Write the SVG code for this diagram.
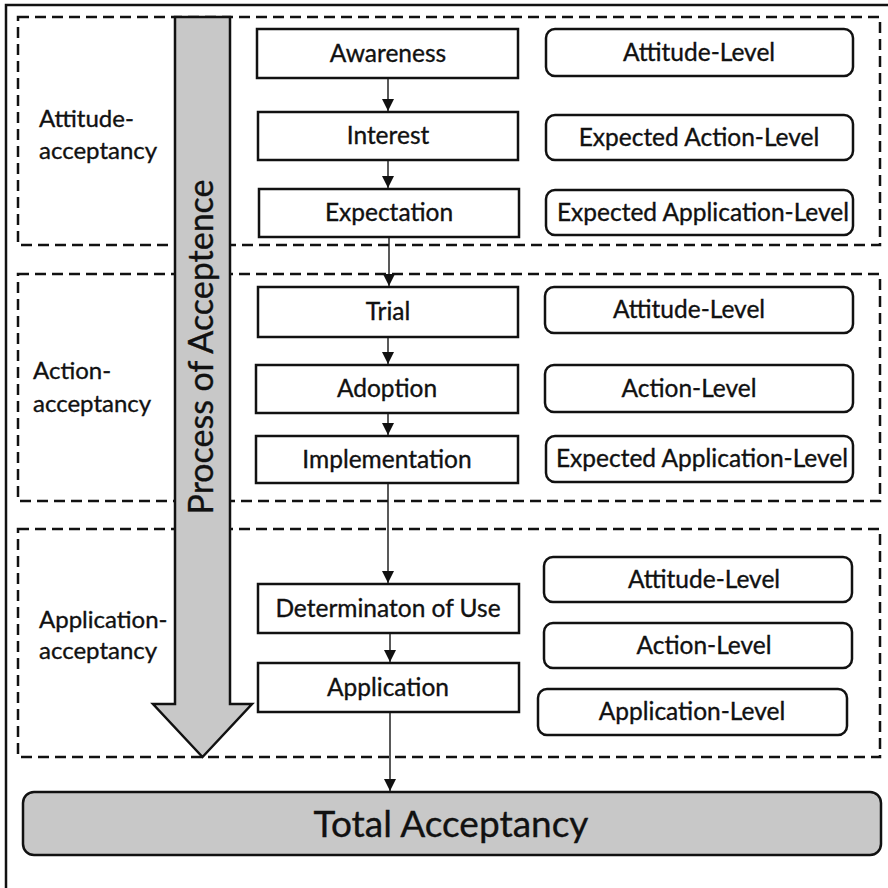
<svg xmlns="http://www.w3.org/2000/svg" width="888" height="888" viewBox="0 0 888 888">
  <style>
    text { font-family: Lato, "Liberation Sans", sans-serif; fill: #111; stroke: #111; stroke-width: 0.35; }
    .step rect { fill: #fff; stroke: #111; stroke-width: 2.5; }
    .level rect { fill: #fff; stroke: #111; stroke-width: 2.5; }
    .step text, .level text { font-size: 24.5px; text-anchor: middle; }
    .phase rect { fill: none; stroke: #111; stroke-width: 2.5; stroke-dasharray: 11 6; }
    .phase text { font-size: 24px; }
    .conn { stroke: #222; stroke-width: 1.5; fill: none; marker-end: url(#head); }
  </style>
  <defs>
    <marker id="head" viewBox="0 0 12 12" refX="12" refY="6" markerWidth="12" markerHeight="12" markerUnits="userSpaceOnUse" orient="auto">
      <path d="M0,0 L12,6 L0,12 Z" fill="#111"/>
    </marker>
  </defs>

  <rect width="888" height="888" fill="#fff"/>
  <!-- outer frame -->
  <rect x="6" y="5" width="900" height="900" fill="none" stroke="#111" stroke-width="2.5"/>

  <!-- phases -->
  <g id="phase-attitude" class="phase">
    <rect x="18" y="17" width="862" height="228"/>
    <text x="39" y="127">Attitude-</text>
    <text x="39" y="159">acceptancy</text>
  </g>
  <g id="phase-action" class="phase">
    <rect x="18" y="274" width="862" height="227"/>
    <text x="33" y="379">Action-</text>
    <text x="33" y="412">acceptancy</text>
  </g>
  <g id="phase-application" class="phase">
    <rect x="18" y="529" width="862" height="228"/>
    <text x="39" y="628">Application-</text>
    <text x="39" y="659">acceptancy</text>
  </g>

  <!-- process arrow -->
  <g id="process">
    <path d="M175,17 L230,17 L230,704 L252,704 L202.5,757 L153,704 L175,704 Z" fill="#c8c8c8" stroke="#111" stroke-width="2.5" stroke-linejoin="miter"/>
    <text transform="translate(213,347) rotate(-90)" x="0" y="0" font-size="34" text-anchor="middle">Process of Acceptence</text>
  </g>

  <!-- process steps -->
  <g id="awareness" class="step"><rect x="257" y="29" width="261" height="49"/><text x="388" y="62">Awareness</text></g>
  <g id="interest" class="step"><rect x="258" y="112" width="260" height="48"/><text x="388" y="144">Interest</text></g>
  <g id="expectation" class="step"><rect x="259" y="189" width="260" height="48"/><text x="389" y="221">Expectation</text></g>
  <g id="trial" class="step"><rect x="258" y="287" width="260" height="50"/><text x="388" y="320">Trial</text></g>
  <g id="adoption" class="step"><rect x="256" y="365" width="262" height="48"/><text x="387" y="397">Adoption</text></g>
  <g id="implementation" class="step"><rect x="256" y="436" width="262" height="47"/><text x="387" y="468">Implementation</text></g>
  <g id="determination" class="step"><rect x="258" y="584" width="261" height="49"/><text x="388" y="617">Determinaton of Use</text></g>
  <g id="application" class="step"><rect x="258" y="663" width="261" height="49"/><text x="388" y="696">Application</text></g>

  <!-- levels -->
  <g id="lvl-1" class="level"><rect x="546" y="29" width="307" height="47" rx="9"/><text x="699" y="61">Attitude-Level</text></g>
  <g id="lvl-2" class="level"><rect x="546" y="115" width="307" height="45" rx="9"/><text x="699" y="146">Expected Action-Level</text></g>
  <g id="lvl-3" class="level"><rect x="546" y="190" width="307" height="45" rx="9"/><text x="703" y="221">Expected Application-Level</text></g>
  <g id="lvl-4" class="level"><rect x="545" y="287" width="308" height="46" rx="9"/><text x="689" y="318">Attitude-Level</text></g>
  <g id="lvl-5" class="level"><rect x="545" y="365" width="308" height="47" rx="9"/><text x="689" y="397">Action-Level</text></g>
  <g id="lvl-6" class="level"><rect x="546" y="436" width="307" height="46" rx="9"/><text x="702" y="467">Expected Application-Level</text></g>
  <g id="lvl-7" class="level"><rect x="544" y="557" width="308" height="45" rx="9"/><text x="704" y="588">Attitude-Level</text></g>
  <g id="lvl-8" class="level"><rect x="544" y="623" width="308" height="45" rx="9"/><text x="704" y="654">Action-Level</text></g>
  <g id="lvl-9" class="level"><rect x="538" y="689" width="309" height="46" rx="9"/><text x="692" y="720">Application-Level</text></g>

  <!-- result -->
  <g id="total">
    <rect x="23" y="792" width="858" height="63" rx="11" fill="#c8c8c8" stroke="#111" stroke-width="2.5"/>
    <text x="451" y="837" font-size="37" text-anchor="middle">Total Acceptancy</text>
  </g>

  <!-- connectors -->
  <g id="connectors">
    <line class="conn" x1="388" y1="79" x2="388" y2="111"/>
    <line class="conn" x1="388" y1="161" x2="388" y2="188"/>
    <line class="conn" x1="389" y1="238" x2="389" y2="286"/>
    <line class="conn" x1="388" y1="338" x2="388" y2="364"/>
    <line class="conn" x1="388" y1="414" x2="388" y2="435"/>
    <line class="conn" x1="388" y1="484" x2="388" y2="583" stroke="#444" stroke-width="1.2"/>
    <line class="conn" x1="390" y1="634" x2="390" y2="662"/>
    <line class="conn" x1="390" y1="713" x2="390" y2="791"/>
  </g>
</svg>
